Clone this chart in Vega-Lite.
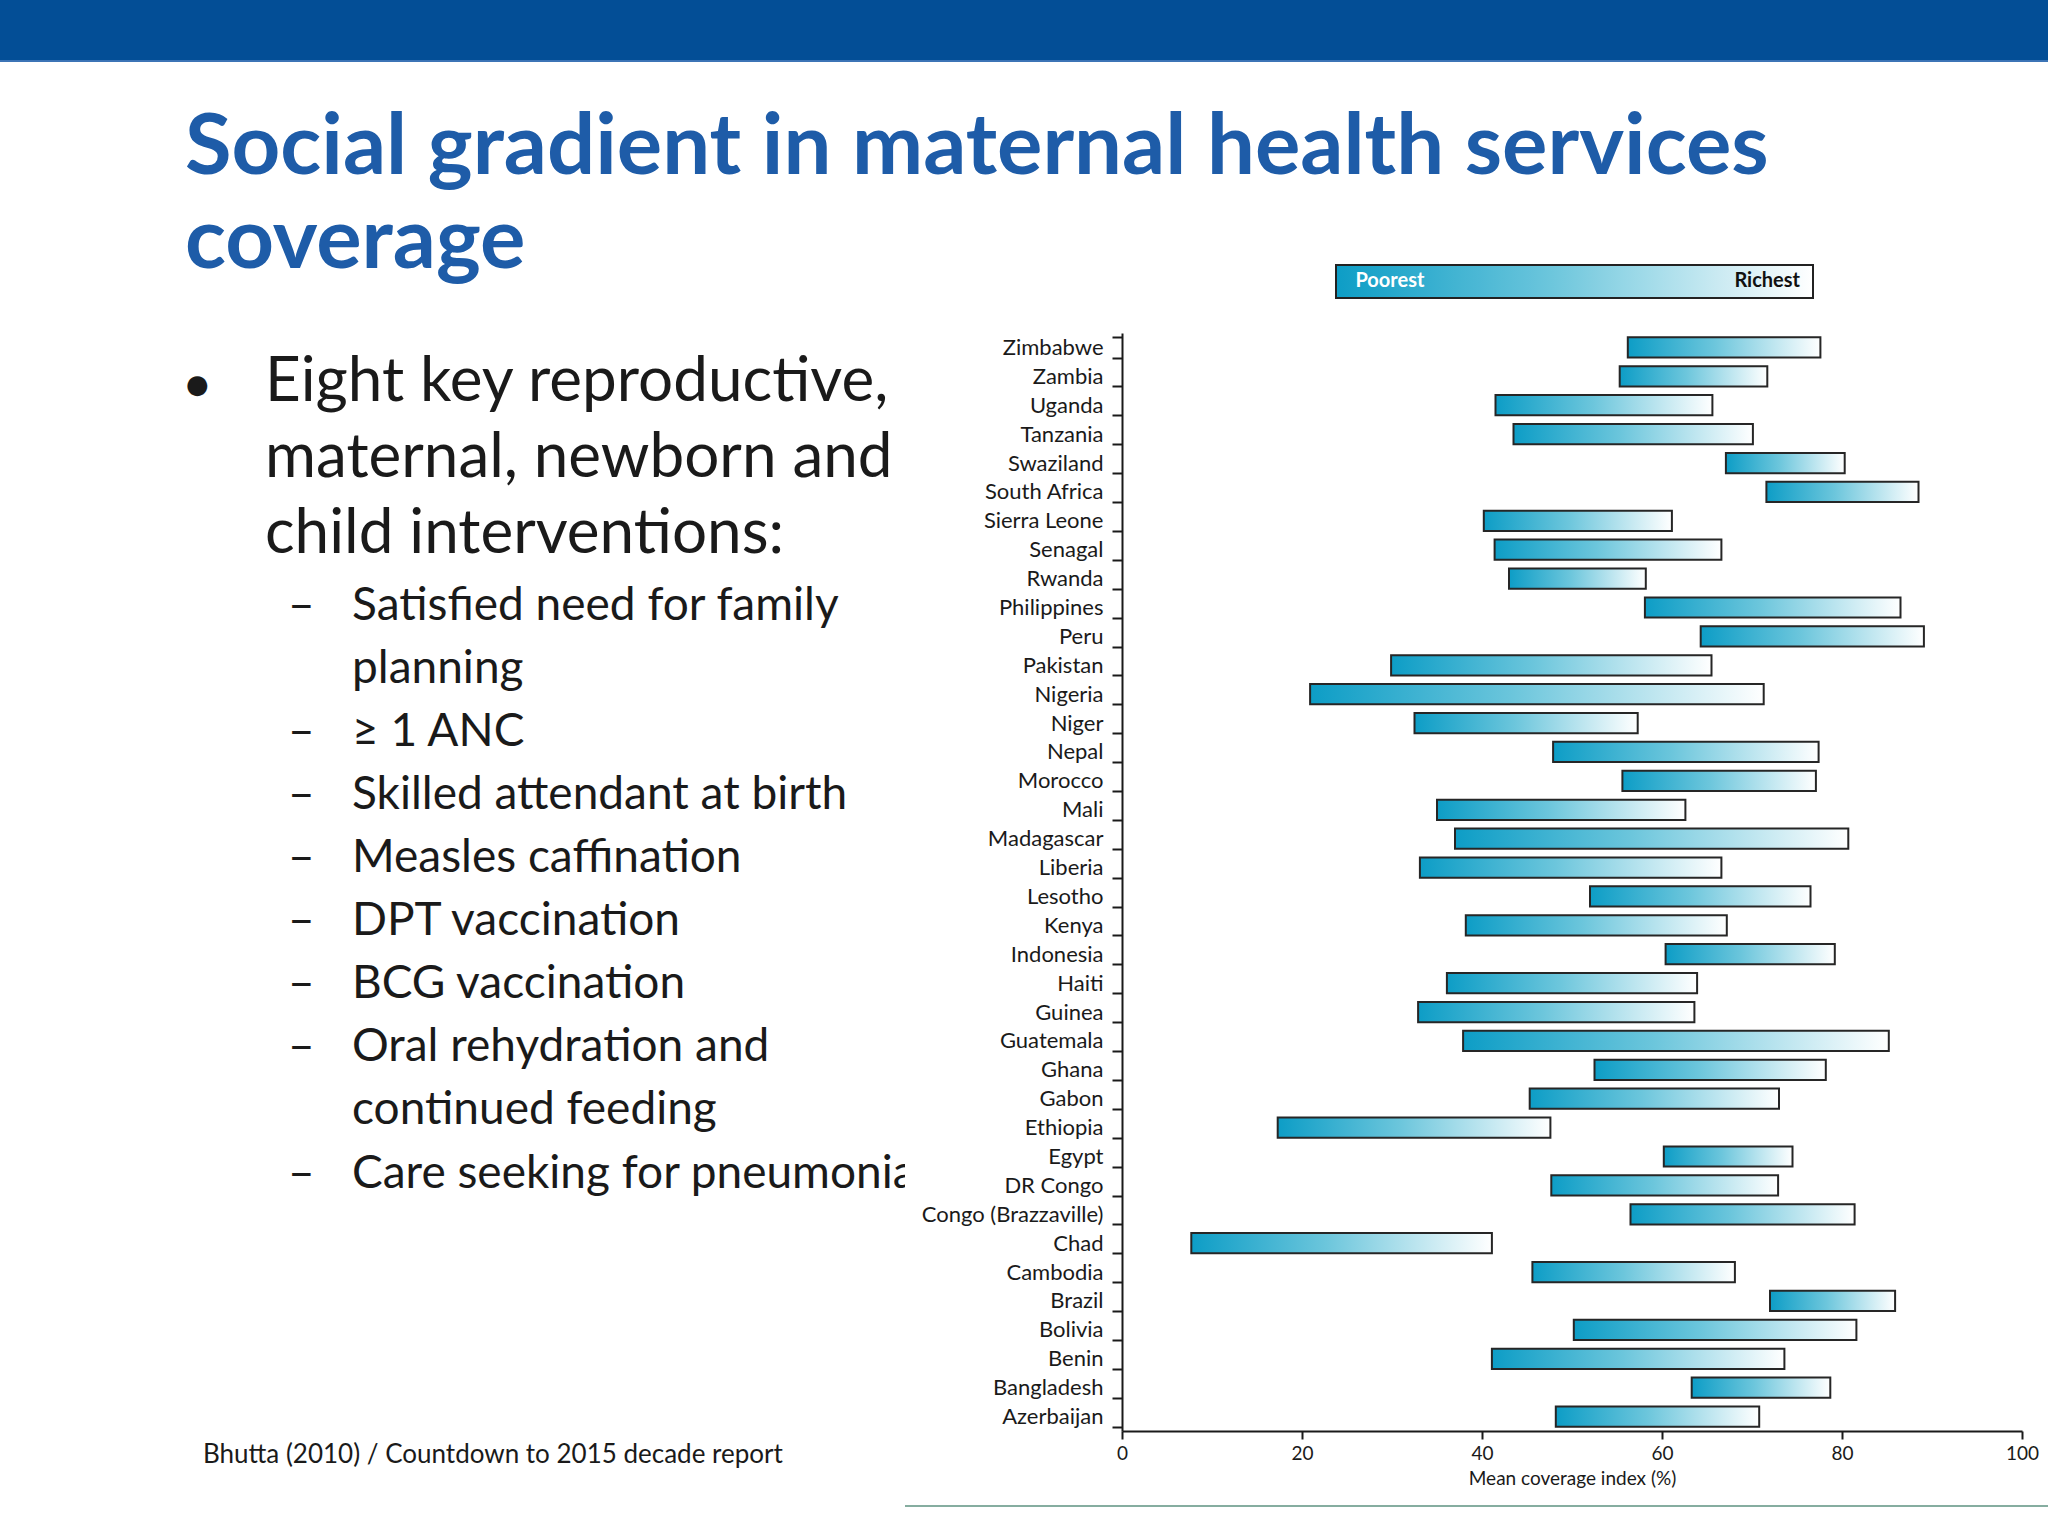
{
  "$schema": "https://vega.github.io/schema/vega-lite/v6.json",
  "padding": 0,
  "spacing": 0,
  "bounds": "flush",
  "columns": 3,
  "background": "white",
  "config": {"view": {"stroke": null}, "font": "Lato"},
  "concat": [
    {"width": 905, "height": 60, "view": {"fill": "#034E96", "stroke": null}, "data": {"values": [{}]}, "mark": {"type": "text", "text": ""},
     "title": {"text": ["Social gradient in maternal health services", "coverage"], "orient": "bottom", "anchor": "start", "frame": "group", "baseline": "top", "offset": 46.9, "dx": 185, "font": "Lato", "fontSize": 85, "fontWeight": "bold", "color": "#1E5CA8", "lineHeight": 94}},
    {"width": 217, "height": 60, "view": {"fill": "#034E96", "stroke": null}, "data": {"values": [{}]}, "mark": {"type": "text", "text": ""}},
    {"width": 926, "height": 60, "view": {"fill": "#034E96", "stroke": null}, "data": {"values": [{}]}, "mark": {"type": "text", "text": ""}},

    {"width": 905, "height": 2, "view": {"fill": "#3C74B6", "stroke": null}, "data": {"values": [{}]}, "mark": {"type": "text", "text": ""},
     "title": {"text": ["●"], "orient": "bottom", "anchor": "start", "frame": "group", "baseline": "top", "offset": 305.6, "dx": 186, "font": "DejaVu Sans", "fontSize": 26, "fontWeight": "normal", "color": "#1a1a1a"}},
    {"width": 217, "height": 2, "view": {"fill": "#3C74B6", "stroke": null}, "data": {"values": [{}]}, "mark": {"type": "text", "text": ""}},
    {"width": 926, "height": 2, "view": {"fill": "#3C74B6", "stroke": null}, "data": {"values": [{}]}, "mark": {"type": "text", "text": ""}},

    {"width": 905, "height": 271, "data": {"values": [{}]}, "mark": {"type": "text", "text": ""},
     "title": {"text": ["Eight key reproductive,", "maternal, newborn and", "child interventions:"], "orient": "bottom", "anchor": "start", "frame": "group", "baseline": "top", "offset": 19, "dx": 265, "font": "Lato", "fontSize": 62, "fontWeight": "normal", "color": "#1a1a1a", "lineHeight": 76}},
    {"width": 217, "height": 271, "data": {"values": [{}]}, "mark": {"type": "text", "text": ""}},
    {"width": 926, "height": 271, "data": {"values": [{}]}, "mark": {"type": "text", "text": ""}},

    {"width": 905, "height": 1098, "data": {"values": [{}]}, "mark": {"type": "text", "text": ""},
     "title": {"text": ["Satisfied need for family", "planning", "≥ 1 ANC", "Skilled attendant at birth", "Measles caffination", "DPT vaccination", "BCG vaccination", "Oral rehydration and", "continued feeding", "Care seeking for pneumonia"], "orient": "bottom", "anchor": "start", "frame": "group", "baseline": "top", "offset": -847.3, "dx": 352, "font": "Lato", "fontSize": 46, "fontWeight": "normal", "color": "#1a1a1a", "lineHeight": 63.1}},
    {"width": 217, "height": 1098, "view": {"fill": "white", "stroke": null}, "data": {"values": [{}]}, "mark": {"type": "text", "text": ""}},
    {
      "width": 900,
      "height": 1098,
      "layer": [
        {
          "data": {"values": [
            {"country": "Zimbabwe", "poorest": 56.2, "richest": 77.6},
            {"country": "Zambia", "poorest": 55.3, "richest": 71.7},
            {"country": "Uganda", "poorest": 41.5, "richest": 65.6},
            {"country": "Tanzania", "poorest": 43.5, "richest": 70.1},
            {"country": "Swaziland", "poorest": 67.1, "richest": 80.3},
            {"country": "South Africa", "poorest": 71.6, "richest": 88.5},
            {"country": "Sierra Leone", "poorest": 40.2, "richest": 61.1},
            {"country": "Senagal", "poorest": 41.4, "richest": 66.6},
            {"country": "Rwanda", "poorest": 43.0, "richest": 58.2},
            {"country": "Philippines", "poorest": 58.1, "richest": 86.5},
            {"country": "Peru", "poorest": 64.3, "richest": 89.1},
            {"country": "Pakistan", "poorest": 29.9, "richest": 65.5},
            {"country": "Nigeria", "poorest": 20.9, "richest": 71.3},
            {"country": "Niger", "poorest": 32.5, "richest": 57.3},
            {"country": "Nepal", "poorest": 47.9, "richest": 77.4},
            {"country": "Morocco", "poorest": 55.6, "richest": 77.1},
            {"country": "Mali", "poorest": 35.0, "richest": 62.6},
            {"country": "Madagascar", "poorest": 37.0, "richest": 80.7},
            {"country": "Liberia", "poorest": 33.1, "richest": 66.6},
            {"country": "Lesotho", "poorest": 52.0, "richest": 76.5},
            {"country": "Kenya", "poorest": 38.2, "richest": 67.2},
            {"country": "Indonesia", "poorest": 60.4, "richest": 79.2},
            {"country": "Haiti", "poorest": 36.1, "richest": 63.9},
            {"country": "Guinea", "poorest": 32.9, "richest": 63.6},
            {"country": "Guatemala", "poorest": 37.9, "richest": 85.2},
            {"country": "Ghana", "poorest": 52.5, "richest": 78.2},
            {"country": "Gabon", "poorest": 45.3, "richest": 73.0},
            {"country": "Ethiopia", "poorest": 17.3, "richest": 47.6},
            {"country": "Egypt", "poorest": 60.2, "richest": 74.5},
            {"country": "DR Congo", "poorest": 47.7, "richest": 72.9},
            {"country": "Congo (Brazzaville)", "poorest": 56.5, "richest": 81.4},
            {"country": "Chad", "poorest": 7.7, "richest": 41.1},
            {"country": "Cambodia", "poorest": 45.6, "richest": 68.1},
            {"country": "Brazil", "poorest": 72.0, "richest": 85.9},
            {"country": "Bolivia", "poorest": 50.2, "richest": 81.6},
            {"country": "Benin", "poorest": 41.1, "richest": 73.6},
            {"country": "Bangladesh", "poorest": 63.3, "richest": 78.7},
            {"country": "Azerbaijan", "poorest": 48.2, "richest": 70.8}
          ]},
          "mark": {
            "type": "bar",
            "fill": {"gradient": "linear", "x1": 0, "y1": 0, "x2": 1, "y2": 0, "stops": [
              {"offset": 0, "color": "#0D9DC6"},
              {"offset": 0.45, "color": "#6CC6DC"},
              {"offset": 1, "color": "#FFFFFF"}
            ]},
            "stroke": "#262626",
            "strokeWidth": 2
          },
          "encoding": {
            "y": {
              "field": "country", "type": "nominal", "sort": null,
              "scale": {"paddingInner": 0.3, "paddingOuter": 0.15},
              "axis": {"title": null, "domainColor": "#1a1a1a", "domainWidth": 2, "tickColor": "#1a1a1a", "tickWidth": 2, "tickSize": 10, "tickBand": "extent", "labelFont": "Lato", "labelFontSize": 22, "labelColor": "#1a1a1a", "labelPadding": 9, "labelLimit": 0, "grid": false}
            },
            "x": {
              "field": "poorest", "type": "quantitative",
              "scale": {"domain": [0, 100], "nice": false},
              "axis": {"values": [0, 20, 40, 60, 80, 100], "title": "Mean coverage index (%)", "titleFont": "Lato", "titleFontSize": 19, "titleFontWeight": "normal", "titleColor": "#1a1a1a", "titlePadding": 6, "labelFont": "Lato", "labelFontSize": 19, "labelColor": "#1a1a1a", "labelPadding": 5, "labelFlush": false, "tickSize": 8, "tickWidth": 2, "tickColor": "#1a1a1a", "domainWidth": 2, "domainColor": "#1a1a1a", "grid": false}
            },
            "x2": {"field": "richest"}
          }
        },
        {
          "data": {"values": [{"wealth": 0}, {"wealth": 1}]},
          "mark": {"type": "point", "size": 0, "filled": true, "opacity": 1},
          "encoding": {
            "color": {
              "field": "wealth", "type": "quantitative",
              "scale": {"domain": [0, 0.45, 1], "range": ["#0D9DC6", "#6CC6DC", "#FFFFFF"], "interpolate": "rgb"},
              "legend": {
                "orient": "none", "legendX": 1336, "legendY": 265, "direction": "horizontal", "title": null,
                "gradientLength": 477, "gradientThickness": 33, "gradientStrokeColor": "#222222", "gradientStrokeWidth": 2,
                "values": [0.113, 0.904],
                "labelExpr": "datum.value < 0.5 ? 'Poorest' : 'Richest'",
                "labelColor": {"expr": "datum.value < 0.5 ? '#ffffff' : '#111111'"},
                "labelOffset": -27, "labelFont": "Lato", "labelFontSize": 20, "labelFontWeight": "bold",
                "padding": 0, "labelOverlap": false
              }
            }
          }
        }
      ]
    },

    {"width": 905, "height": 74, "data": {"values": [{}]}, "mark": {"type": "text", "text": ""},
     "title": {"text": ["–", "\u200b", "–", "–", "–", "–", "–", "–", "\u200b", "–"], "orient": "bottom", "anchor": "start", "frame": "group", "baseline": "top", "offset": -921.3, "dx": 288, "font": "Lato", "fontSize": 46, "fontWeight": "normal", "color": "#1a1a1a", "lineHeight": 63.1}},
    {"width": 217, "height": 74, "data": {"values": [{}]}, "mark": {"type": "text", "text": ""}},
    {"width": 926, "height": 74, "data": {"values": [{}]}, "mark": {"type": "text", "text": ""}},

    {"width": 905, "height": 2, "data": {"values": [{}]}, "mark": {"type": "text", "text": ""},
     "title": {"text": "Bhutta (2010) / Countdown to 2015 decade report", "orient": "bottom", "anchor": "start", "frame": "group", "baseline": "top", "offset": -68.75, "dx": 203, "font": "Lato", "fontSize": 26, "fontWeight": "normal", "color": "#1a1a1a"}},
    {"width": 217, "height": 2, "view": {"fill": "#86ADA0", "stroke": null}, "data": {"values": [{}]}, "mark": {"type": "text", "text": ""}},
    {"width": 926, "height": 2, "view": {"fill": "#86ADA0", "stroke": null}, "data": {"values": [{}]}, "mark": {"type": "text", "text": ""}}
  ]
}
